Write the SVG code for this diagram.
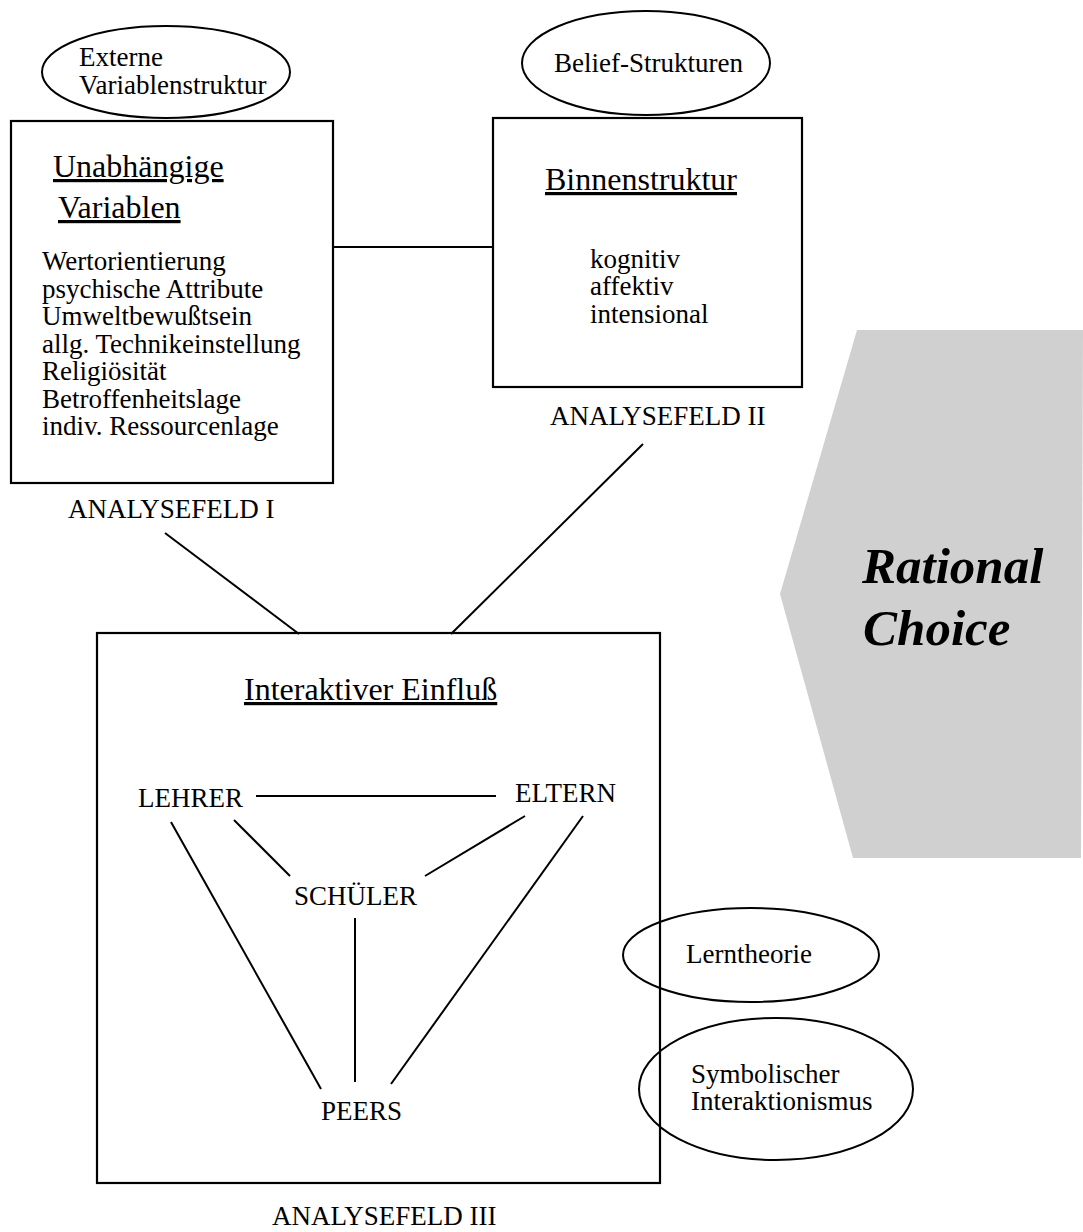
<svg xmlns="http://www.w3.org/2000/svg" width="1083" height="1232" viewBox="0 0 1083 1232">
  <style>
    .box { fill: none; stroke: #000; stroke-width: 2.2; }
    .oval { fill: none; stroke: #000; stroke-width: 2; }
    .link { stroke: #000; stroke-width: 2; fill: none; }
    text { font-family: "Liberation Serif", "Times New Roman", serif; fill: #000; }
    .t27 { font-size: 27px; }
    .head { font-size: 32px; text-decoration: underline; }
    .rc { font-size: 51px; font-weight: bold; font-style: italic; }
  </style>
  <rect width="1083" height="1232" fill="#fff"/>

  <!-- Rational Choice backdrop -->
  <g id="rational-choice">
    <polygon points="857,330 1083,330 1081,858 853,858 780,594" fill="#d0d0d0"/>
    <text class="rc" x="862" y="583">Rational</text>
    <text class="rc" x="863" y="645">Choice</text>
  </g>

  <!-- connectors -->
  <g id="connectors">
    <line class="link" x1="332" y1="247" x2="493" y2="247"/>
    <line class="link" x1="165" y1="533" x2="299" y2="634"/>
    <line class="link" x1="643" y1="444" x2="451" y2="634"/>
    <line class="link" x1="256" y1="796" x2="496" y2="796"/>
    <line class="link" x1="234" y1="820" x2="290" y2="876"/>
    <line class="link" x1="525" y1="816" x2="425" y2="876"/>
    <line class="link" x1="171" y1="822" x2="321" y2="1089"/>
    <line class="link" x1="355" y1="918" x2="355" y2="1082"/>
    <line class="link" x1="583" y1="816" x2="391" y2="1084"/>
  </g>

  <!-- Analysefeld I -->
  <g id="ext-variablen">
    <ellipse class="oval" cx="166" cy="72" rx="124" ry="46"/>
    <text class="t27" x="79" y="66">Externe</text>
    <text class="t27" x="79" y="93.5">Variablenstruktur</text>
  </g>
  <g id="analysefeld-1">
    <rect class="box" x="11" y="121" width="322" height="362"/>
    <text class="head" x="53" y="177">Unabhängige</text>
    <text class="head" x="58" y="218">Variablen</text>
    <text class="t27" x="42" y="270">Wertorientierung</text>
    <text class="t27" x="42" y="297.5">psychische Attribute</text>
    <text class="t27" x="42" y="325">Umweltbewußtsein</text>
    <text class="t27" x="42" y="352.5">allg. Technikeinstellung</text>
    <text class="t27" x="42" y="380">Religiösität</text>
    <text class="t27" x="42" y="407.5">Betroffenheitslage</text>
    <text class="t27" x="42" y="435">indiv. Ressourcenlage</text>
    <text class="t27" x="68" y="518">ANALYSEFELD I</text>
  </g>

  <!-- Analysefeld II -->
  <g id="belief">
    <ellipse class="oval" cx="646" cy="63" rx="124" ry="52"/>
    <text class="t27" x="554" y="72">Belief-Strukturen</text>
  </g>
  <g id="analysefeld-2">
    <rect class="box" x="493" y="118" width="309" height="269"/>
    <text class="head" x="545" y="190">Binnenstruktur</text>
    <text class="t27" x="590" y="267.5">kognitiv</text>
    <text class="t27" x="590" y="295">affektiv</text>
    <text class="t27" x="590" y="322.5">intensional</text>
    <text class="t27" x="550" y="425">ANALYSEFELD II</text>
  </g>

  <!-- Analysefeld III -->
  <g id="analysefeld-3">
    <rect class="box" x="97" y="633" width="563" height="550"/>
    <text class="head" x="244" y="700">Interaktiver Einfluß</text>
    <text class="t27" x="272" y="1225">ANALYSEFELD III</text>
  </g>
  <g id="lehrer"><text class="t27" x="138" y="807">LEHRER</text></g>
  <g id="eltern"><text class="t27" x="515" y="802">ELTERN</text></g>
  <g id="schueler"><text class="t27" x="294" y="905">SCHÜLER</text></g>
  <g id="peers"><text class="t27" x="321" y="1120">PEERS</text></g>

  <!-- theory labels -->
  <g id="lerntheorie">
    <ellipse class="oval" cx="751" cy="955" rx="128" ry="47"/>
    <text class="t27" x="686" y="963">Lerntheorie</text>
  </g>
  <g id="symbolischer-interaktionismus">
    <ellipse class="oval" cx="776" cy="1089" rx="137" ry="71"/>
    <text class="t27" x="691" y="1082.5">Symbolischer</text>
    <text class="t27" x="691" y="1110">Interaktionismus</text>
  </g>
</svg>
